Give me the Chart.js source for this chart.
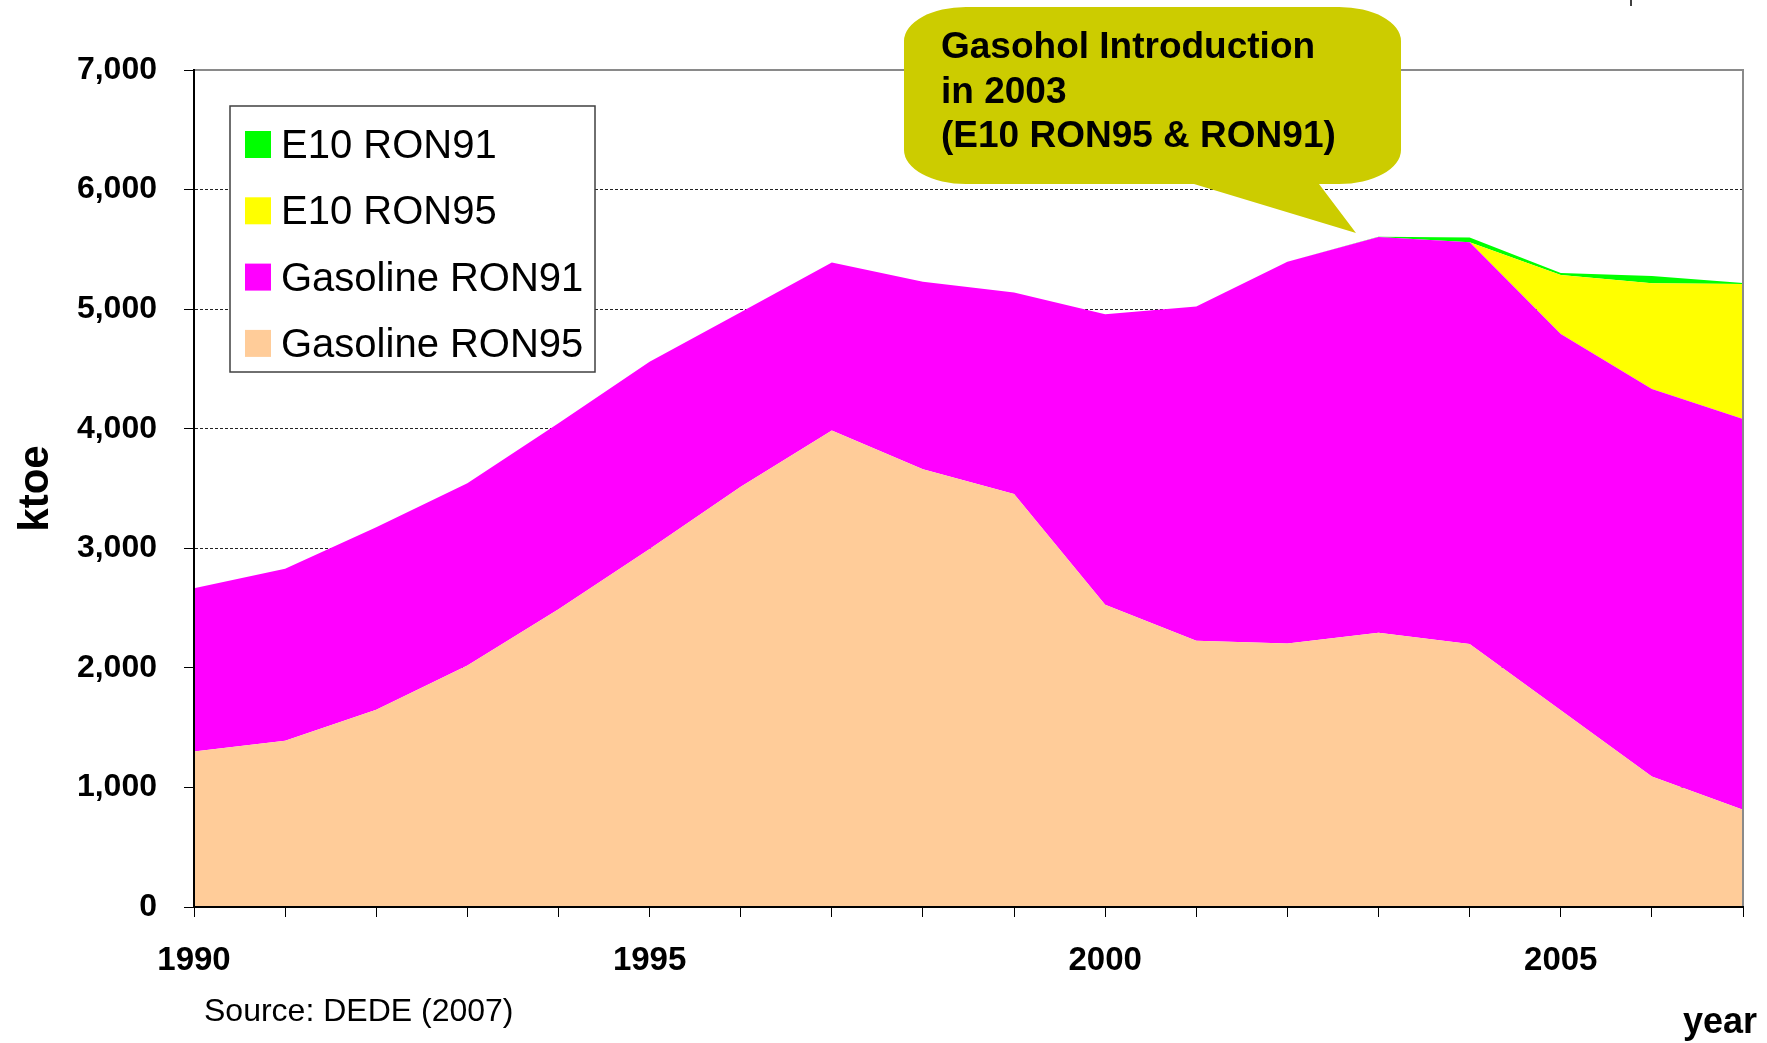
<!DOCTYPE html>
<html>
<head>
<meta charset="utf-8">
<script src="https://cdn.jsdelivr.net/npm/chart.js@4.4.1/dist/chart.umd.min.js"></script>
<style>
  html, body { margin: 0; padding: 0; background: #ffffff; }
  #wrap { width: 1767px; height: 1043px; position: relative; }
</style>
</head>
<body>
<div id="wrap"><canvas id="c" width="1767" height="1043"></canvas></div>
<script>
// ---- data ----
const years = ['1990','1991','1992','1993','1994','1995','1996','1997','1998','1999',
               '2000','2001','2002','2003','2004','2005','2006','2007'];
const gasolineRON95 = [1300, 1390, 1650, 2020, 2490, 2995, 3515, 3985, 3660, 3455, 2527, 2226, 2203, 2293, 2200, 1646, 1091, 813];
const gasolineRON91 = [1366, 1438, 1526, 1524, 1555, 1566, 1458, 1406, 1570, 1685, 2430, 2797, 3194, 3310, 3359, 3147, 3242, 3269];
const e10RON95      = [0, 0, 0, 0, 0, 0, 0, 0, 0, 0, 0, 0, 0, 0, 0, 493, 883, 1129];
const e10RON91      = [0, 0, 0, 0, 0, 0, 0, 0, 0, 0, 0, 0, 0, 2, 41, 17, 62, 8];
const seriesNames   = ['Gasoline RON95', 'Gasoline RON91', 'E10 RON95', 'E10 RON91'];
const seriesColors  = ['#FFCC99', '#FF00FF', '#FFFF00', '#00FF00'];
const yMin = 0, yMax = 7000, yStep = 1000;
const labeledYears = ['1990', '1995', '2000', '2005'];
const yTitle = 'ktoe';
const xTitle = 'year';
const sourceText = 'Source: DEDE (2007)';
const calloutLines = ['Gasohol Introduction', 'in 2003', '(E10 RON95 & RON91)'];

const FONT = "'Liberation Sans', Arial, sans-serif";

const seriesValues = [gasolineRON95, gasolineRON91, e10RON95, e10RON91];
const datasets = seriesNames.map((name, i) => ({
  label: name,
  data: seriesValues[i],
  backgroundColor: seriesColors[i],
  borderColor: seriesColors[i],
  borderWidth: 0,
  pointRadius: 0,
  pointHoverRadius: 0,
  tension: 0,
  fill: i === 0 ? 'origin' : '-1'
}));

const decor = {
  id: 'decor',
  afterDatasetsDraw(chart) {
    const { ctx, chartArea: a } = chart;
    ctx.save();
    // top & right frame
    ctx.strokeStyle = '#8a8a8a';
    ctx.lineWidth = 2;
    ctx.beginPath();
    ctx.moveTo(a.left, a.top);
    ctx.lineTo(a.right, a.top);
    ctx.lineTo(a.right, a.bottom);
    ctx.stroke();

    // legend box (reversed dataset order)
    const bx = 230, by = 106, bw = 365, bh = 266;
    ctx.fillStyle = '#ffffff';
    ctx.fillRect(bx, by, bw, bh);
    ctx.strokeStyle = '#404040';
    ctx.lineWidth = 1.5;
    ctx.strokeRect(bx, by, bw, bh);
    const ds = chart.data.datasets.slice().reverse();
    ctx.font = '40px ' + FONT;
    ctx.textAlign = 'left';
    ctx.textBaseline = 'alphabetic';
    ds.forEach((d, k) => {
      const rowTop = 131 + k * 66.3;
      ctx.fillStyle = d.backgroundColor;
      ctx.fillRect(245, rowTop, 26, 27);
      ctx.fillStyle = '#000000';
      ctx.fillText(d.label, 281, rowTop + 27);
    });
    ctx.restore();
  },
  afterDraw(chart) {
    const { ctx } = chart;
    ctx.save();
    // callout bubble
    const x = 904, y = 7, w = 497, h = 177, rx = 62, ry = 34;
    const tailL = 1194, tailR = 1319, tipX = 1356, tipY = 233;
    ctx.fillStyle = '#CCCC00';
    ctx.beginPath();
    ctx.moveTo(x + rx, y);
    ctx.lineTo(x + w - rx, y);
    ctx.ellipse(x + w - rx, y + ry, rx, ry, 0, -Math.PI / 2, 0);
    ctx.lineTo(x + w, y + h - ry);
    ctx.ellipse(x + w - rx, y + h - ry, rx, ry, 0, 0, Math.PI / 2);
    ctx.lineTo(tailR, y + h);
    ctx.lineTo(tipX, tipY);
    ctx.lineTo(tailL, y + h);
    ctx.lineTo(x + rx, y + h);
    ctx.ellipse(x + rx, y + h - ry, rx, ry, 0, Math.PI / 2, Math.PI);
    ctx.lineTo(x, y + ry);
    ctx.ellipse(x + rx, y + ry, rx, ry, 0, Math.PI, 1.5 * Math.PI);
    ctx.closePath();
    ctx.fill();
    ctx.fillStyle = '#000000';
    ctx.font = 'bold 37px ' + FONT;
    ctx.textAlign = 'left';
    ctx.textBaseline = 'alphabetic';
    calloutLines.forEach((t, i) => ctx.fillText(t, 941, 58 + i * 44.5));

    // source note
    ctx.font = '32px ' + FONT;
    ctx.fillText(sourceText, 204, 1021);

    // x axis title
    ctx.font = 'bold 36px ' + FONT;
    ctx.textAlign = 'right';
    ctx.fillText(xTitle, 1757, 1033);

    // small mark at top right
    ctx.strokeStyle = '#000000';
    ctx.lineWidth = 1.5;
    ctx.beginPath();
    ctx.moveTo(1631, 0);
    ctx.lineTo(1631, 6);
    ctx.stroke();
    ctx.restore();
  }
};

new Chart(document.getElementById('c'), {
  type: 'line',
  data: { labels: years, datasets },
  options: {
    responsive: false,
    animation: false,
    events: [],
    layout: { padding: { top: 70, right: 16, bottom: 0, left: 0 } },
    plugins: { legend: { display: false }, tooltip: { enabled: false } },
    scales: {
      x: {
        type: 'category',
        offset: false,
        afterFit: (s) => { s.height = 136; },
        grid: { display: true, drawOnChartArea: false, drawTicks: true, tickLength: 10, tickColor: '#000', tickWidth: 1 },
        border: { display: true, color: '#000', width: 2, z: 1 },
        ticks: {
          autoSkip: false, maxRotation: 0, minRotation: 0, padding: 24,
          color: '#000',
          font: { family: FONT, size: 33, weight: 'bold' },
          callback: function (v, i) { const l = this.getLabelForValue(v); return labeledYears.includes(l) ? l : ''; }
        }
      },
      y: {
        stacked: true,
        min: yMin, max: yMax,
        afterFit: (s) => { s.width = 194; },
        grid: {
          color: (c) => (c.tick && (c.tick.value === yMin || c.tick.value === yMax)) ? 'rgba(0,0,0,0)' : '#222',
          lineWidth: 1, drawTicks: true, tickLength: 10, tickColor: '#000', tickWidth: 1
        },
        border: { display: true, color: '#000', width: 2, dash: [3, 2], z: 1 },
        ticks: {
          stepSize: yStep, padding: 27, color: '#000',
          font: { family: FONT, size: 32, weight: 'bold' },
          callback: (v) => v.toLocaleString('en-US')
        },
        title: {
          display: true, text: yTitle, color: '#000',
          font: { family: FONT, size: 42, weight: 'bold' },
          padding: { top: 11, bottom: 0 }
        }
      }
    }
  },
  plugins: [decor]
});
</script>
</body>
</html>
